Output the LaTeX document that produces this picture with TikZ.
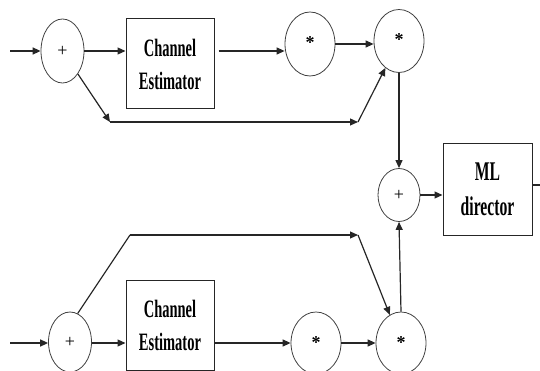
\documentclass[tikz,border=0pt]{standalone}
\usepackage{fontspec}
\setmainfont{Liberation Serif}
\newfontfamily\lblfont[FakeStretch=0.58]{Liberation Serif}
\usetikzlibrary{shapes.geometric,arrows.meta}
\begin{document}
\begin{tikzpicture}[x=1pt,y=-1pt,
  circ/.style={draw=black!75,line width=0.8pt,ellipse,inner sep=0pt,font=\fontsize{18}{18}\selectfont},
  blk/.style={draw=black!85,line width=1pt,rectangle,inner sep=0pt,align=center,
     font=\lblfont\bfseries\fontsize{25}{33}\selectfont},
  conn/.style={draw=black!85,line width=1.2pt},
  arr/.style={conn,-{Triangle[length=8pt,width=7pt]}}]
\useasboundingbox (0,0) rectangle (540,371);
% top branch
\node[circ,minimum width=43pt,minimum height=64pt] (p1) at (62.5,51) {+};
\node[blk,minimum width=88pt,minimum height=90pt] (b1) at (170,64) {Channel\\Estimator};
\node[circ,minimum width=50pt,minimum height=64pt] (s1) at (310,44) {\raisebox{3pt}{\bfseries *}};
\node[circ,minimum width=50pt,minimum height=63pt] (s2) at (399,41) {\raisebox{3pt}{\bfseries *}};
% middle
\node[circ,minimum width=42pt,minimum height=53pt] (p2) at (399,195) {+};
\node[blk,minimum width=89pt,minimum height=91pt,font=\lblfont\bfseries\fontsize{27}{35}\selectfont] (ml) at (487.5,189.5) {ML\\director};
% bottom branch
\node[circ,minimum width=43pt,minimum height=60pt] (p3) at (70,342) {+};
\node[blk,minimum width=88pt,minimum height=90pt] (b2) at (170,325) {Channel\\Estimator};
\node[circ,minimum width=50pt,minimum height=62pt] (s3) at (316,343) {\bfseries *};
\node[circ,minimum width=50pt,minimum height=62pt] (s4) at (401,343) {\bfseries *};
% coordinates
\coordinate (in1) at (10,51);
\coordinate (in2) at (10,343);
\coordinate (c1) at (110,122);
\coordinate (c2) at (358,122);
\coordinate (c3) at (130,235);
\coordinate (c4) at (358,235);
\coordinate (out) at (540,185);
% top connectors
\draw[arr,line width=1.6pt] (in1) -- (p1.west);
\draw[arr] (p1.east) -- (p1.east -| b1.west);
\draw[arr] ([xshift=4pt]b1.east |- p1.east) -- (s1.west |- p1.east);
\draw[arr] (s1.east) -- (s1.east -| s2.west);
\draw[arr] (p1) -- (c1);
\draw[arr] (c1) -- (c2);
\draw[arr] (c2) -- (s2);
\draw[arr] (s2.south) -- (p2.north);
% ML
\draw[arr] (p2.east) -- (p2.east -| ml.west);
\draw[conn] (ml.east |- out) -- (out);
% bottom connectors
\draw[arr,line width=1.6pt] (in2) -- (p3.west |- in2);
\draw[arr] (p3.east |- in2) -- (b2.west |- in2);
\draw[arr] (b2.east |- in2) -- (s3.west |- in2);
\draw[arr] (s3.east |- in2) -- (s4.west |- in2);
\draw[conn] (p3.75) -- (c3);
\draw[arr] (c3) -- (c4);
\draw[arr] (c4) -- (s4);
\draw[arr] (s4.north) -- (p2.south);
\end{tikzpicture}
\end{document}
